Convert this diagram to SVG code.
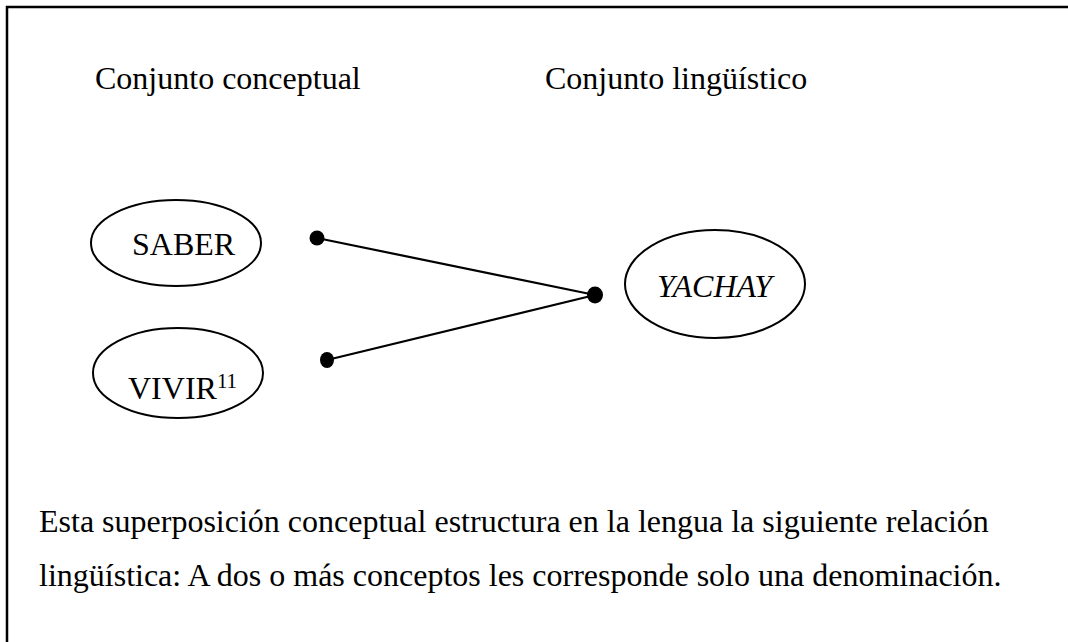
<svg xmlns="http://www.w3.org/2000/svg" width="1068" height="642" viewBox="0 0 1068 642">
<style>
.t{font-family:"Liberation Serif","Times New Roman",serif;font-size:32px;fill:#000}
.n{fill:#fff;stroke:#000;stroke-width:2}
.c{stroke:#000;stroke-width:2.2;fill:none}
.d{fill:#000}
</style>
<rect width="1068" height="642" fill="#fff"/>
<path d="M7,642 V7 H1068" fill="none" stroke="#000" stroke-width="2.5"/>
<g id="headers">
<text class="t" x="95" y="89">Conjunto conceptual</text>
<text class="t" x="545" y="89">Conjunto lingüístico</text>
</g>
<g id="saber">
<ellipse class="n" cx="176" cy="243" rx="85" ry="43"/>
<text class="t" x="132" y="255">SABER</text>
</g>
<g id="vivir">
<ellipse class="n" cx="178" cy="373" rx="85" ry="45"/>
<text class="t" x="128" y="399">VIVIR<tspan font-size="21" dy="-11">11</tspan></text>
</g>
<g id="yachay">
<ellipse class="n" cx="715" cy="284" rx="90" ry="54"/>
<text class="t" x="657" y="297" font-style="italic">YACHAY</text>
</g>
<g id="connectors">
<line class="c" x1="317" y1="238" x2="595" y2="295"/>
<line class="c" x1="327" y1="360" x2="595" y2="295"/>
<ellipse class="d" cx="317" cy="238" rx="7.5" ry="7.5"/>
<ellipse class="d" cx="327" cy="360" rx="7" ry="8"/>
<ellipse class="d" cx="595" cy="295" rx="8" ry="8.5"/>
</g>
<g id="caption">
<text class="t" x="39" y="532">Esta superposición conceptual estructura en la lengua la siguiente relación</text>
<text class="t" x="39" y="586">lingüística: A dos o más conceptos les corresponde solo una denominación.</text>
</g>
</svg>
